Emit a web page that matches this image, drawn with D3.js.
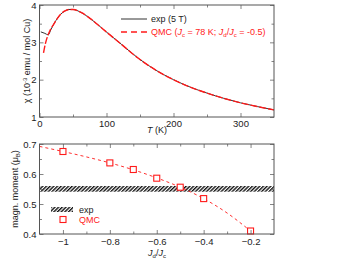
<!DOCTYPE html>
<html><head><meta charset="utf-8">
<script src="https://cdn.jsdelivr.net/npm/d3@7"></script>
<style>
body{margin:0;background:#fff;}
svg{display:block;font-family:"Liberation Sans",Arial,sans-serif;}
</style></head><body>
<svg id="c" width="338" height="261"></svg>
<script>
// ---- data: top panel (susceptibility) ----
const expT   = [2, 8, 13, 17, 22, 27, 32, 38, 44, 50, 62, 77, 97, 122, 147, 174, 200, 225, 250, 275, 300, 325, 350];
const expChi = [3.28, 3.24, 3.20, 3.34, 3.51, 3.65, 3.76, 3.84, 3.88, 3.88, 3.80, 3.62, 3.32, 2.95, 2.58, 2.25, 2.00, 1.80, 1.64, 1.50, 1.38, 1.28, 1.19];
const qmcT   = [6, 9, 12, 16, 22, 27, 32, 38, 44, 50, 62, 77, 97, 122, 147, 174, 200, 225, 250, 275, 300, 325, 350];
const qmcChi = [2.72, 2.98, 3.16, 3.33, 3.51, 3.65, 3.76, 3.84, 3.88, 3.88, 3.80, 3.62, 3.32, 2.95, 2.58, 2.25, 2.00, 1.80, 1.64, 1.50, 1.38, 1.28, 1.19];
const topXTicks = [0, 100, 200, 300];
const topYTicks = [1, 2, 3, 4];

// ---- data: bottom panel (moment) ----
const ratio    = [-1.0, -0.8, -0.7, -0.6, -0.5, -0.4, -0.2];
const moment   = [0.675, 0.637, 0.615, 0.586, 0.556, 0.518, 0.410];
const fitRatio = [-1.1, -1.0, -0.9, -0.8, -0.7, -0.6, -0.5, -0.4, -0.3, -0.2];
const fitMoment= [0.692, 0.675, 0.657, 0.637, 0.614, 0.587, 0.556, 0.518, 0.470, 0.410];
const expBand  = [0.541, 0.560];
const botXTicks = [-1, -0.8, -0.6, -0.4, -0.2];
const botYTicks = [0.4, 0.5, 0.6, 0.7];

const svg = d3.select("#c");
const RED = "#ff1a1a", AX = "#555", TK = "#777";
const fs = 9.5;

const defs = svg.append("defs");
const pat = defs.append("pattern").attr("id","hatch").attr("patternUnits","userSpaceOnUse")
  .attr("width",2.6).attr("height",2.6).attr("patternTransform","rotate(45)");
pat.append("rect").attr("width",2.6).attr("height",2.6).attr("fill","#fff");
pat.append("rect").attr("width",1.4).attr("height",2.6).attr("fill","#111");

function frame(g, x, y, xMajor, xMinor, yMajor, yMinor, fmtX, fmtY, padB) {
  const [x0,x1] = x.range(), [y0,y1] = y.range();
  // ticks bottom (with labels)
  const ab = d3.axisBottom(x).tickValues(xMajor).tickSize(-4).tickPadding(padB).tickFormat(fmtX);
  const gb = g.append("g").attr("transform",`translate(0,${y0})`).call(ab);
  const at = d3.axisTop(x).tickValues(xMajor).tickSize(-4).tickFormat("");
  const gt = g.append("g").attr("transform",`translate(0,${y1})`).call(at);
  const al = d3.axisLeft(y).tickValues(yMajor).tickSize(-4).tickPadding(3).tickFormat(fmtY);
  const gl = g.append("g").attr("transform",`translate(${x0},0)`).call(al);
  const ar = d3.axisRight(y).tickValues(yMajor).tickSize(-4).tickFormat("");
  const gr = g.append("g").attr("transform",`translate(${x1},0)`).call(ar);
  // minor ticks
  g.append("g").attr("transform",`translate(0,${y0})`).call(d3.axisBottom(x).tickValues(xMinor).tickSize(-2.5).tickFormat(""));
  g.append("g").attr("transform",`translate(0,${y1})`).call(d3.axisTop(x).tickValues(xMinor).tickSize(-2.5).tickFormat(""));
  g.append("g").attr("transform",`translate(${x0},0)`).call(d3.axisLeft(y).tickValues(yMinor).tickSize(-2.5).tickFormat(""));
  g.append("g").attr("transform",`translate(${x1},0)`).call(d3.axisRight(y).tickValues(yMinor).tickSize(-2.5).tickFormat(""));
  g.selectAll(".domain").remove();
  g.selectAll(".tick line").attr("stroke",TK).attr("stroke-width",0.9);
  g.selectAll(".tick text").attr("fill","#222").attr("font-size",fs).attr("font-family","Liberation Sans, Arial, sans-serif");
  g.append("rect").attr("x",x0).attr("y",y1).attr("width",x1-x0).attr("height",y0-y1)
    .attr("fill","none").attr("stroke",AX).attr("stroke-width",1);
}

// ---------- top panel ----------
const xT = d3.scaleLinear().domain([0,350]).range([39.5,274]);
const yT = d3.scaleLinear().domain([1,4]).range([117,5]);
const gTop = svg.append("g");
const lineT = d3.line().x(d=>xT(d[0])).y(d=>yT(d[1])).curve(d3.curveMonotoneX);
gTop.append("path").datum(expT.map((t,i)=>[t,expChi[i]])).attr("d",lineT)
  .attr("fill","none").attr("stroke","#333").attr("stroke-width",1);
gTop.append("path").datum(qmcT.map((t,i)=>[t,qmcChi[i]])).attr("d",lineT)
  .attr("fill","none").attr("stroke",RED).attr("stroke-width",1.4).attr("stroke-dasharray","7,2");
frame(gTop, xT, yT, topXTicks, [50,150,250], topYTicks, [1.5,2.5,3.5], d3.format("d"), d3.format("d"), 3);

// legend top
gTop.append("line").attr("x1",121).attr("x2",147).attr("y1",19).attr("y2",19).attr("stroke","#333").attr("stroke-width",1);
gTop.append("text").attr("x",151).attr("y",22.3).attr("font-size",9).attr("fill","#222").text("exp (5 T)");
gTop.append("line").attr("x1",121).attr("x2",147).attr("y1",32).attr("y2",32).attr("stroke",RED).attr("stroke-width",1.4).attr("stroke-dasharray","6,4");
{
  const t = gTop.append("text").attr("x",151).attr("y",35.3).attr("font-size",9).attr("fill",RED);
  t.append("tspan").text("QMC (");
  t.append("tspan").attr("font-style","italic").text("J");
  t.append("tspan").attr("font-size",6).attr("dy",2).text("c");
  t.append("tspan").attr("dy",-2).text(" = 78 K; ");
  t.append("tspan").attr("font-style","italic").text("J");
  t.append("tspan").attr("font-size",6).attr("dy",2).text("d");
  t.append("tspan").attr("dy",-2).text("/");
  t.append("tspan").attr("font-style","italic").text("J");
  t.append("tspan").attr("font-size",6).attr("dy",2).text("c");
  t.append("tspan").attr("dy",-2).text(" = -0.5)");
}
// axis labels top
{
  const t = gTop.append("text").attr("transform","translate(30,61) rotate(-90)").attr("text-anchor","middle")
    .attr("font-size",9).attr("fill","#222");
  t.append("tspan").text("χ (10");
  t.append("tspan").attr("font-size",6).attr("dy",-3.5).text("-3");
  t.append("tspan").attr("dy",3.5).text(" emu / mol Cu)");
  const tx = gTop.append("text").attr("x",157).attr("y",132.5).attr("text-anchor","middle").attr("font-size",9).attr("fill","#222");
  tx.append("tspan").attr("font-style","italic").text("T");
  tx.append("tspan").text(" (K)");
}

// ---------- bottom panel ----------
const xB = d3.scaleLinear().domain([-1.1,-0.1]).range([39.5,274]);
const yB = d3.scaleLinear().domain([0.4,0.7]).range([234,144]);
const gB = svg.append("g");
gB.append("rect").attr("x",xB(-1.1)).attr("width",xB(-0.1)-xB(-1.1))
  .attr("y",yB(expBand[1])).attr("height",yB(expBand[0])-yB(expBand[1])).attr("fill","url(#hatch)");
const lineB = d3.line().x(d=>xB(d[0])).y(d=>yB(d[1])).curve(d3.curveMonotoneX);
gB.append("path").datum(fitRatio.map((r,i)=>[r,fitMoment[i]])).attr("d",lineB)
  .attr("fill","none").attr("stroke",RED).attr("stroke-width",0.9).attr("stroke-dasharray","3,3");
gB.selectAll("rect.pt").data(ratio.map((r,i)=>[r,moment[i]])).join("rect").attr("class","pt")
  .attr("x",d=>xB(d[0])-3).attr("y",d=>yB(d[1])-3).attr("width",6).attr("height",6)
  .attr("fill","#fff").attr("stroke",RED).attr("stroke-width",1.1);
frame(gB, xB, yB, botXTicks, [-0.9,-0.7,-0.5,-0.3], botYTicks, [0.45,0.55,0.65], d3.format("~g"), d3.format(".1f"), 4);

// legend bottom
gB.append("rect").attr("x",51).attr("y",207).attr("width",22).attr("height",5).attr("fill","url(#hatch)");
gB.append("text").attr("x",79).attr("y",212.5).attr("font-size",9).attr("fill","#222").text("exp");
gB.append("rect").attr("x",60).attr("y",216.5).attr("width",6).attr("height",6).attr("fill","#fff").attr("stroke",RED).attr("stroke-width",1.1);
gB.append("text").attr("x",79).attr("y",223).attr("font-size",9).attr("fill",RED).text("QMC");

{
  const t = gB.append("text").attr("transform","translate(18,189) rotate(-90)").attr("text-anchor","middle")
    .attr("font-size",9).attr("fill","#222");
  t.append("tspan").text("magn. moment (μ");
  t.append("tspan").attr("font-size",6).attr("dy",2).text("B");
  t.append("tspan").attr("dy",-2).text(")");
  const tx = gB.append("text").attr("x",157).attr("y",255.5).attr("text-anchor","middle").attr("font-size",9).attr("fill","#222");
  tx.append("tspan").attr("font-style","italic").text("J");
  tx.append("tspan").attr("font-size",6).attr("dy",2).text("d");
  tx.append("tspan").attr("dy",-2).text("/");
  tx.append("tspan").attr("font-style","italic").text("J");
  tx.append("tspan").attr("font-size",6).attr("dy",2).text("c");
}
</script>
</body></html>
